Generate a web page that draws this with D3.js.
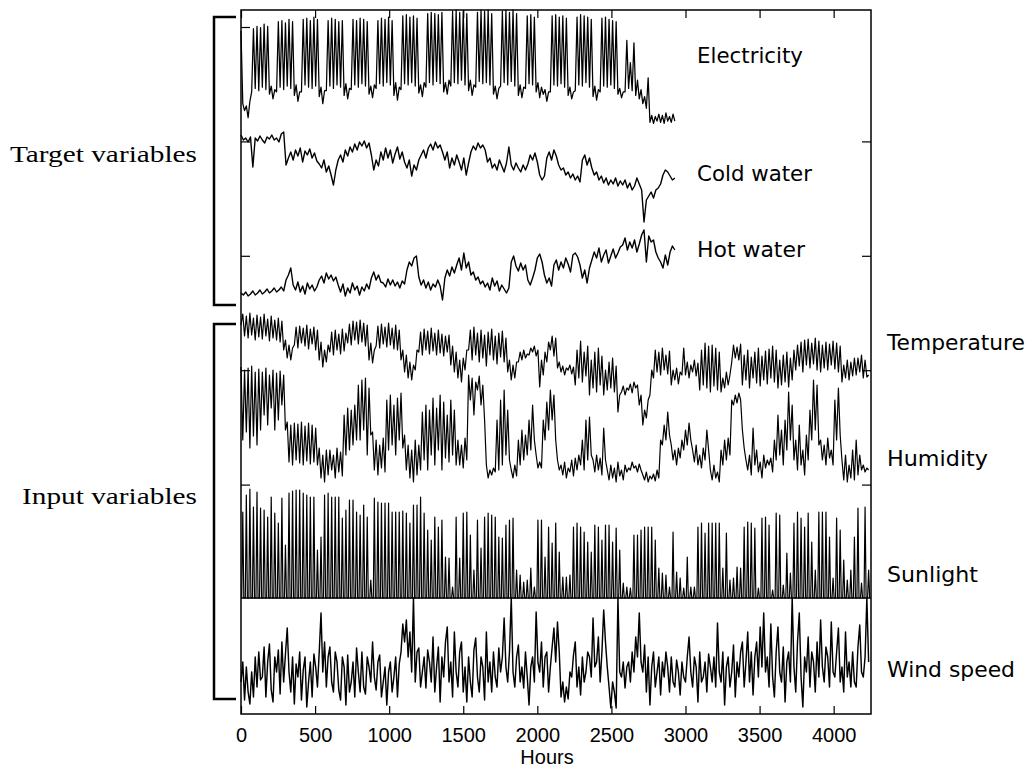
<!DOCTYPE html>
<html>
<head>
<meta charset="utf-8">
<script src="https://cdn.jsdelivr.net/npm/d3@7"></script>
<style>
  body { margin: 0; background: #fff; }
  svg { display: block; }
</style>
</head>
<body>
<svg id="chart" width="1033" height="770"></svg>
<script>
// ---------------- DATA ----------------
const hourTicks = [0, 500, 1000, 1500, 2000, 2500, 3000, 3500, 4000];
const groupNames = ["Target variables", "Input variables"];
const seriesNames = ["Electricity", "Cold water", "Hot water", "Temperature", "Humidity", "Sunlight", "Wind speed"];

// Electricity load (arbitrary units), one sample every 12 h from hour 0
const electricity = [
  82,20, 14,18, 8,22,
  30,84, 33,86, 31,85, 34,88, 32,86, 28,35, 24,32,
  30,90, 34,91, 32,89, 35,92, 33,90, 27,36, 22,30,
  30,92, 36,93, 34,91, 33,94, 35,92, 26,34, 20,31,
  31,91, 35,93, 33,92, 36,90, 34,91, 27,37, 24,33,
  32,92, 36,91, 34,93, 37,92, 35,90, 28,35, 25,36,
  33,91, 37,93, 35,92, 38,94, 36,91, 27,38, 23,34,
  32,95, 37,96, 36,94, 38,95, 35,93, 29,36, 26,38,
  34,97, 38,98, 36,97, 39,96, 37,98, 30,38, 28,40,
  35,99, 38,100, 37,98, 40,99, 36,97, 31,40, 27,36,
  34,98, 39,100, 37,99, 38,100, 36,97, 28,35, 24,33,
  35,99, 38,100, 36,98, 39,100, 35,97, 27,36, 25,34,
  33,95, 37,96, 36,94, 30,38, 25,34, 28,32, 22,30,
  30,95, 36,96, 35,94, 37,95, 34,93, 27,34, 24,30,
  31,94, 36,96, 35,95, 38,94, 34,92, 26,35, 23,32,
  30,93, 35,94, 34,92, 36,91, 33,90, 28,33, 25,30,
  30,74, 33,55, 31,72, 27,40, 24,32, 20,26, 16,42,
  4,10, 3,9, 5,11, 4,10, 3,12, 5,9, 4,11,
  5
];

// Cold water consumption (arbitrary units), one sample every 16 h
const coldWater = [
  90,85,87,83,88,58,
  87,84,89,85,82,88,86,90,85,87,83,91,93,
  60,
  67,73,65,75,69,77,63,74,70,76,67,72,64,
  61,57,65,53,59,50,40,55,
  65,70,63,75,69,78,73,81,75,83,79,84,77,82,
  70,55,65,59,
  73,65,77,67,75,62,71,78,66,73,63,
  57,65,49,60,55,
  65,70,75,67,77,
  81,75,83,77,80,73,
  65,73,57,67,60,70,
  63,55,67,50,62,
  73,79,75,82,77,80,75,
  63,67,57,61,55,65,59,53,62,
  78,
  60,55,62,57,53,60,55,61,
  70,65,72,63,
  50,45,49,
  67,73,65,75,69,
  60,55,57,50,53,47,51,45,49,43,
  65,70,60,67,
  57,50,53,45,49,42,47,40,45,41,47,39,44,
  40,45,37,42,35,39,47,41,35,
  3,
  25,
  29,33,27,35,37,41,
  50,55,53,
  49,45,47
];

// Hot water consumption (arbitrary units), one sample every 16 h
const hotWater = [
  7,5,8,4,6,9,5,7,10,6,8,11,7,9,12,8,10,13,9,
  20,25,32,
  15,10,18,8,14,6,17,11,15,9,13,
  20,24,17,27,21,25,19,23,
  15,8,16,4,12,7,17,10,14,5,13,9,16,11,
  22,28,20,25,18,
  17,13,21,15,20,14,18,12,19,16,
  30,38,34,42,44,
  23,15,20,12,18,10,16,13,20,14,
  0,
  22,30,24,33,27,35,
  42,30,47,32,38,
  25,28,20,23,16,19,13,
  17,10,22,14,19,9,15,11,7,
  12,38,44,
  34,29,37,30,35,
  20,15,22,
  30,42,46,
  38,25,17,22,14,
  35,40,30,38,32,42,36,28,
  45,47,43,
  35,22,30,17,32,
  40,48,42,52,38,45,50,37,44,51,42,47,53,
  55,62,50,58,52,60,48,56,65,
  70,
  38,
  64,58,60,
  48,42,38,32,45,35,
  48,54,50
];

// Outdoor temperature (arbitrary units), one sample every 12 h (night, day)
const temperature = [
  103,114, 92,112, 90,115, 93,110, 88,113, 91,111, 89,114, 92,109, 87,112, 90,108, 88,110, 86,107,
  78,88, 70,83, 68,80,
  83,101, 80,102, 85,100, 82,103, 79,99, 84,101, 78,98,
  68,86, 61,78, 66,83,
  76,96, 73,98, 78,94, 74,99, 77,95,
  85,104, 83,107, 88,106, 84,108, 86,105, 82,103,
  68,85, 65,78,
  82,102, 80,104, 84,101, 81,105, 83,100, 79,103, 78,98,
  68,78, 56,73, 50,66, 48,63, 58,78,
  76,96, 73,99, 78,97, 74,100, 77,95, 73,98, 75,94, 72,92, 76,93,
  63,82, 56,76, 50,68, 46,70, 58,78,
  78,98, 68,101, 73,95, 66,98, 70,93, 62,96, 73,99, 68,92, 64,95, 71,97, 66,90,
  56,68, 48,63, 50,66,
  66,76, 68,78, 70,74, 73,80, 76,82, 72,78,
  41,68, 53,76, 66,86,
  78,92, 72,90,
  60,66, 56,62, 53,60, 58,63, 54,61,
  43,78, 50,87, 46,76, 52,82,
  33,68, 40,76, 36,80, 43,72,
  33,58, 38,66, 40,70, 36,62,
  16,33,
  36,42, 33,40, 38,44, 35,46, 40,43,
  23,33, 3,18, 10,28,
  33,58,
  50,78, 56,76, 53,80, 58,73, 54,77,
  43,58, 48,60, 44,56, 53,80,
  53,66, 50,63, 56,68, 52,65,
  38,78, 43,85, 40,82, 36,83, 42,80, 38,76,
  36,50, 40,56, 43,53,
  66,83, 70,81, 68,84,
  43,73, 48,78, 40,71, 50,76, 45,80, 42,72, 48,77, 44,79, 50,82, 46,78,
  40,68, 43,73, 46,76, 41,70, 48,78,
  58,83, 62,86, 56,88, 63,89, 60,85, 64,90, 58,87,
  56,83, 60,86, 58,84, 63,87, 59,85, 56,82,
  46,63, 50,68, 48,66, 52,70,
  53,70, 56,73, 50,68, 51,53
];

// Relative humidity (arbitrary units), one sample every 12 h (night, day)
const humidity = [
  121,48, 118,56, 120,40, 122,52, 116,43, 119,58,
  116,73, 120,63, 113,80, 118,58, 115,68, 117,83,
  113,58,
  66,26, 63,23, 65,28, 64,25, 66,23, 62,27, 65,24, 63,26, 60,23,
  40,10, 33,6, 38,13,
  38,18, 33,10, 40,16, 36,12,
  73,33, 80,38, 78,43, 83,48,
  103,48, 108,58, 110,33, 100,53,
  56,18, 48,13, 43,20, 50,16,
  88,38, 93,43, 83,33, 90,48, 95,40,
  53,18, 43,10, 38,6, 48,13, 43,18,
  76,28, 83,18, 78,33, 90,23, 80,38, 93,18, 86,30, 73,26, 88,33, 78,23,
  48,23, 43,20, 50,28,
  113,88, 110,73, 106,98, 112,83, 103,68,
  23,10, 18,13, 20,16,
  68,18, 88,23, 98,33, 78,28,
  18,10, 23,12,
  48,23, 58,28, 53,33, 68,38, 83,48,
  33,20, 26,20,
  68,48, 86,58,
  98,68, 93,48,
  28,18, 23,13, 26,10, 20,16, 28,12, 30,18,
  33,23, 48,18, 68,28, 71,33,
  28,16, 33,18, 30,13, 60,28,
  18,8, 23,10, 20,6, 26,12, 18,8,
  23,16, 20,18, 26,20, 22,16, 24,18,
  13,8, 16,6, 12,9, 14,7, 18,10,
  48,43, 63,48, 76,53,
  43,28, 38,23, 40,30,
  48,38, 58,43, 65,48,
  38,26, 43,23, 33,20, 40,28, 58,38,
  18,8, 23,10, 16,6,
  38,23, 48,28, 50,33,
  88,83, 93,85, 95,88,
  58,40,
  28,18, 33,13, 60,23, 38,16, 26,10, 33,20, 28,23, 30,16,
  48,28, 73,33, 58,23, 68,38, 96,48, 83,28,
  48,18, 63,23, 38,13, 53,28,
  78,48, 108,58, 103,43,
  48,28, 43,23, 50,30, 38,23,
  88,48, 100,53,
  28,8, 33,6, 23,10, 38,8, 48,13, 33,18,
  23,16, 20,18
];

// Sunlight: daily peak (arbitrary units), one value per day; zero at night
const sunlightPeak = [
  86,103,109,91,106,90,88,81,101,85,
  75,100,53,105,107,108,108,105,103,101,
  101,48,61,103,105,101,101,101,80,88,
  98,98,86,83,93,81,18,100,96,95,
  95,95,86,86,86,87,85,75,93,93,
  101,85,68,58,81,71,78,41,40,11,
  81,40,85,86,63,28,78,50,81,85,
  83,81,61,60,73,78,80,28,23,16,
  18,30,11,78,
  78,41,71,55,75,46,21,21,23,71,
  75,71,66,56,46,73,71,58,73,73,
  56,70,48,15,11,10,63,63,68,71,
  71,71,58,30,25,23,11,66,26,20,
  10,41,11,11,71,75,65,75,75,75,
  75,30,65,18,20,31,30,71,76,75,
  70,10,80,81,73,8,85,83,13,45,
  25,75,86,80,71,85,56,28,86,86,
  86,61,20,80,68,38,18,28,61,90,
  15,91,28
];

// Wind speed (arbitrary units), one sample every 12 h
const windSpeed = [
  30,50,12,45,20,8,40,15,55,25,60,32,35,65,15,50,68,22,10,55,
  40,62,18,70,30,58,84,40,20,55,8,48,35,60,12,42,55,5,30,50,
  15,58,45,25,60,99,40,70,25,55,65,30,20,60,50,22,12,55,45,7,
  57,20,30,50,15,64,40,20,60,25,18,55,45,30,70,35,22,50,57,15,
  30,45,7,40,50,20,35,55,15,48,60,88,70,92,55,80,40,114,30,60,
  64,25,40,55,24,62,50,30,75,20,45,65,10,55,35,70,85,30,50,15,
  80,40,25,60,70,20,45,10,55,30,15,62,74,35,20,55,45,12,80,30,
  50,20,60,35,25,64,40,55,94,45,30,60,114,40,25,55,67,30,45,24,
  60,35,7,45,55,30,100,50,40,70,25,55,60,20,45,65,84,50,90,60,
  15,30,10,25,13,40,35,57,70,25,45,17,55,30,40,60,55,35,94,45,
  50,75,30,60,102,70,45,25,4,30,20,4,114,40,35,50,24,45,50,30,
  60,40,75,55,99,50,40,67,20,55,7,45,60,25,40,55,17,50,35,60,
  45,20,55,30,25,52,40,17,50,35,30,55,75,40,25,55,45,10,60,30,
  35,50,20,58,45,30,55,25,89,40,30,60,7,45,55,25,40,67,15,50,
  35,60,70,25,50,80,30,60,17,55,70,35,85,45,99,40,55,25,88,35,
  15,60,85,40,30,65,10,50,60,30,114,45,20,70,99,35,5,55,40,75,
  25,60,50,20,70,35,92,45,30,65,55,25,90,40,35,60,84,30,45,20,
  80,35,50,25,60,30,25,65,87,40,35,55,114,50
];

// ---------------- LAYOUT ----------------
const svg = d3.select("#chart");
const frame = { left: 241, right: 871, top: 10, bottom: 714, split: 598 };
const x = d3.scaleLinear().domain([0, 4252]).range([frame.left, frame.right]);

function stepSeries(values, stepHours) {
  return values.map((v, i) => ({ h: i * stepHours, v }));
}
function sunSeries(peaks) {
  const pts = [];
  peaks.forEach((p, d) => {
    pts.push({ h: d * 24 + 5, v: 0 });
    pts.push({ h: d * 24 + 12, v: p });
    pts.push({ h: d * 24 + 19, v: 0 });
  });
  return pts;
}

const panels = [
  { name: seriesNames[0], pts: stepSeries(electricity, 12), dom: [0, 100], rng: [127, 10], lx: 697, ly: 56, len: 106, sw: 1.25 },
  { name: seriesNames[1], pts: stepSeries(coldWater, 16), dom: [0, 97], rng: [225, 128], lx: 697, ly: 174, len: 115, sw: 1.4 },
  { name: seriesNames[2], pts: stepSeries(hotWater, 16), dom: [0, 72], rng: [300, 228], lx: 697, ly: 250, len: 108, sw: 1.4 },
  { name: seriesNames[3], pts: stepSeries(temperature, 12), dom: [0, 116], rng: [428, 312], lx: 887, ly: 343, len: 138, sw: 1.2 },
  { name: seriesNames[4], pts: stepSeries(humidity, 12), dom: [0, 128], rng: [488, 360], lx: 887, ly: 459, len: 101, sw: 1.2 },
  { name: seriesNames[5], pts: sunSeries(sunlightPeak), dom: [0, 110], rng: [598, 488], lx: 887, ly: 575, len: 91, sw: 1.2 },
  { name: seriesNames[6], pts: stepSeries(windSpeed, 12), dom: [0, 114], rng: [712, 598], lx: 887, ly: 670, len: 128, sw: 1.45 }
];

// series lines
panels.forEach(p => {
  const y = d3.scaleLinear().domain(p.dom).range(p.rng);
  const line = d3.line().x(d => x(d.h)).y(d => y(d.v));
  svg.append("path")
    .datum(p.pts)
    .attr("d", line)
    .attr("fill", "none")
    .attr("stroke", "#000")
    .attr("stroke-width", p.sw)
    .attr("stroke-linejoin", "round");
  svg.append("text")
    .attr("x", p.lx)
    .attr("y", p.ly + 7)
    .attr("textLength", p.len)
    .attr("lengthAdjust", "spacingAndGlyphs")
    .attr("font-family", "'DejaVu Sans', sans-serif")
    .attr("font-size", 21)
    .attr("fill", "#000")
    .text(p.name);
});

// frame
svg.append("rect")
  .attr("x", frame.left).attr("y", frame.top)
  .attr("width", frame.right - frame.left).attr("height", frame.bottom - frame.top)
  .attr("fill", "none").attr("stroke", "#000").attr("stroke-width", 1.5);
svg.append("line")
  .attr("x1", frame.left).attr("x2", frame.right)
  .attr("y1", frame.split).attr("y2", frame.split)
  .attr("stroke", "#000").attr("stroke-width", 1.5);

// x axes
const xb = svg.append("g").attr("transform", `translate(0,${frame.bottom})`)
  .call(d3.axisBottom(x).tickValues(hourTicks).tickSizeInner(-8).tickSizeOuter(0).tickPadding(14).tickFormat(d3.format("d")));
xb.select(".domain").remove();
xb.selectAll("line").attr("stroke-width", 1.2);
xb.selectAll("text").attr("font-family", "'Liberation Sans', Arial, sans-serif").attr("font-size", 20).attr("fill", "#000");

const xt = svg.append("g").attr("transform", `translate(0,${frame.top})`)
  .call(d3.axisTop(x).tickValues(hourTicks).tickSizeInner(-8).tickSizeOuter(0).tickFormat(""));
xt.select(".domain").remove();
xt.selectAll("line").attr("stroke-width", 1.2);

svg.append("text")
  .attr("x", 547).attr("y", 764)
  .attr("text-anchor", "middle")
  .attr("font-family", "'Liberation Sans', Arial, sans-serif")
  .attr("font-size", 20)
  .text("Hours");

// y ticks (panel separators)
const yTick = d3.scaleLinear().domain([0, 5]).range([599, 27]);
const yl = svg.append("g").attr("transform", `translate(${frame.left},0)`)
  .call(d3.axisLeft(yTick).tickValues([1, 2, 3, 4, 5]).tickSizeInner(-9).tickSizeOuter(0).tickFormat(""));
yl.select(".domain").remove();
yl.selectAll("line").attr("stroke-width", 1.2);
const yr = svg.append("g").attr("transform", `translate(${frame.right},0)`)
  .call(d3.axisRight(yTick).tickValues([1, 2, 3, 4]).tickSizeInner(-9).tickSizeOuter(0).tickFormat(""));
yr.select(".domain").remove();
yr.selectAll("line").attr("stroke-width", 1.2);

// group brackets
const brackets = [
  { name: groupNames[0], top: 17, bottom: 305, ty: 155, tx: 10, len: 187 },
  { name: groupNames[1], top: 324, bottom: 699, ty: 497, tx: 22, len: 175 }
];
brackets.forEach(b => {
  svg.append("path")
    .attr("d", `M236,${b.top}H214V${b.bottom}H236`)
    .attr("fill", "none").attr("stroke", "#000").attr("stroke-width", 2.5);
  svg.append("text")
    .attr("x", b.tx).attr("y", b.ty + 7)
    .attr("textLength", b.len)
    .attr("lengthAdjust", "spacingAndGlyphs")
    .attr("font-family", "'Liberation Serif', 'DejaVu Serif', serif")
    .attr("font-size", 23)
    .text(b.name);
});
</script>
</body>
</html>
